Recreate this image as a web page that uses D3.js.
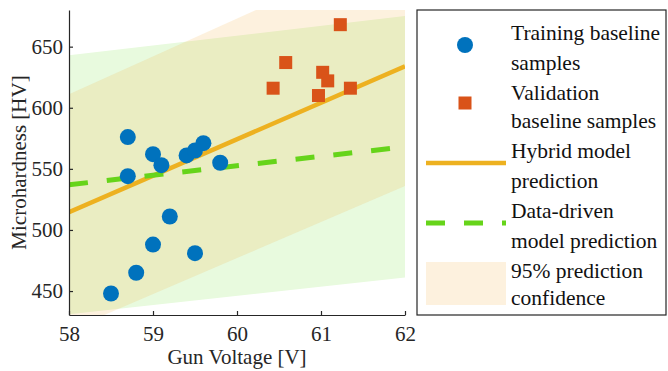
<!DOCTYPE html>
<html>
<head>
<meta charset="utf-8">
<script src="https://cdn.jsdelivr.net/npm/d3@7"></script>
<style>
  body { margin: 0; background: #fff; }
</style>
</head>
<body>
<div id="chart"></div>
<script>
// training samples (blue circles)
const trainV = [58.5, 58.8, 59.0, 59.2, 59.5, 58.7, 58.7, 59.0, 59.1, 59.4, 59.5, 59.6, 59.8];
const trainH = [448, 465, 488, 511, 481, 544, 576, 562, 553, 561, 565, 571, 555];
// validation samples (orange squares)
const valV = [60.43, 60.58, 61.02, 61.08, 60.97, 61.35, 61.23];
const valH = [616, 637, 629, 622, 610, 616, 668];
// model lines, evaluated at the ends of the voltage range
const lineV = [58, 62];
const hybridH = [514.5, 634];
const dataDrivenH = [537, 568];
// 95% prediction bands
const hybridLo = [418, 536];
const hybridHi = [611, 735];
const ddLo = [431, 461];
const ddHi = [643, 675];

const xTicks = [58, 59, 60, 61, 62];
const yTicks = [450, 500, 550, 600, 650];
const legendLabels = [
  ["Training baseline", "samples"],
  ["Validation", "baseline samples"],
  ["Hybrid model", "prediction"],
  ["Data-driven", "model prediction"],
  ["95% prediction", "confidence"]
];

const W = 668, H = 371;
const plot = { l: 69, r: 405, t: 10, b: 315 };
const axisColor = "#262626";
const serif = '"Liberation Serif", "Times New Roman", Times, serif';
const fontSize = 21;

const svg = d3.select("#chart").append("svg").attr("width", W).attr("height", H)
  .attr("font-family", serif);

const xScale = d3.scaleLinear().domain([58, 62]).range([plot.l, plot.r]);
const yScale = d3.scaleLinear().domain([430.4, 680]).range([plot.b, plot.t]);

svg.append("clipPath").attr("id", "clip")
  .append("rect").attr("x", plot.l).attr("y", plot.t)
  .attr("width", plot.r - plot.l).attr("height", plot.b - plot.t);

const plotg = svg.append("g").attr("clip-path", "url(#clip)");

const band = (lo, hi) => d3.area()
  .x((d, i) => xScale(lineV[i]))
  .y0((d, i) => yScale(lo[i]))
  .y1((d, i) => yScale(hi[i]))(lineV);

const orangeBand = "rgb(243,173,61)";
const bandAlpha = 0.17;

plotg.append("path").attr("d", band(ddLo, ddHi)).attr("fill", "rgb(232,250,222)");
plotg.append("path").attr("d", band(hybridLo, hybridHi))
  .attr("fill", orangeBand).attr("fill-opacity", bandAlpha);

const lineGen = d3.line().x(d => xScale(d[0])).y(d => yScale(d[1]));

plotg.append("path").attr("d", lineGen(d3.zip(lineV, hybridH)))
  .attr("fill", "none").attr("stroke", "#EDB120").attr("stroke-width", 4.5);
plotg.append("path").attr("d", lineGen(d3.zip(lineV, dataDrivenH)))
  .attr("fill", "none").attr("stroke", "#66d41a").attr("stroke-width", 5)
  .attr("stroke-dasharray", "19,19");

plotg.selectAll(".train").data(d3.zip(trainV, trainH)).join("circle")
  .attr("class", "train")
  .attr("cx", d => xScale(d[0])).attr("cy", d => yScale(d[1]))
  .attr("r", 8).attr("fill", "#0072BD");

const sq = 13;
plotg.selectAll(".val").data(d3.zip(valV, valH)).join("rect")
  .attr("class", "val")
  .attr("x", d => xScale(d[0]) - sq / 2).attr("y", d => yScale(d[1]) - sq / 2)
  .attr("width", sq).attr("height", sq).attr("fill", "#D95319");

// axes: left and bottom only, ticks pointing inward
const xAxis = d3.axisBottom(xScale).tickValues(xTicks).tickSizeInner(-4).tickSizeOuter(0).tickPadding(11).tickFormat(d3.format("d"));
const yAxis = d3.axisLeft(yScale).tickValues(yTicks).tickSizeInner(-4).tickSizeOuter(0).tickPadding(6).tickFormat(d3.format("d"));

const xaxisg = svg.append("g").attr("transform", `translate(0,${plot.b})`).call(xAxis);
const yaxisg = svg.append("g").attr("transform", `translate(${plot.l},0)`).call(yAxis);

[xaxisg, yaxisg].forEach(g => {
  g.attr("font-family", serif).attr("font-size", fontSize);
  g.select(".domain").attr("stroke", axisColor).attr("stroke-width", 1.2);
  g.selectAll(".tick line").attr("stroke", axisColor).attr("stroke-width", 1.2);
  g.selectAll(".tick text").attr("fill", axisColor);
});
xaxisg.selectAll(".tick text").attr("dy", "0.71em");

svg.append("text").attr("x", (plot.l + plot.r) / 2).attr("y", 357).attr("dy", "0.35em")
  .attr("text-anchor", "middle").attr("font-size", fontSize).attr("fill", axisColor)
  .text("Gun Voltage [V]");
svg.append("text").attr("transform", `translate(19,${(plot.t + plot.b) / 2}) rotate(-90)`)
  .attr("dy", "0.35em").attr("text-anchor", "middle").attr("font-size", fontSize)
  .attr("fill", axisColor).text("Microhardness [HV]");

// legend
const leg = svg.append("g");
leg.append("rect").attr("x", 417).attr("y", 10).attr("width", 249).attr("height", 305)
  .attr("fill", "#fff").attr("stroke", axisColor).attr("stroke-width", 1.2);

const rowY = [[32, 62], [92, 120], [150, 180], [210, 240], [270, 297]];
const symY = [45, 103, 163, 223, 283];

leg.append("circle").attr("cx", 465).attr("cy", symY[0]).attr("r", 8).attr("fill", "#0072BD");
leg.append("rect").attr("x", 465 - sq / 2).attr("y", symY[1] - sq / 2).attr("width", sq).attr("height", sq).attr("fill", "#D95319");
leg.append("line").attr("x1", 426).attr("x2", 506).attr("y1", symY[2]).attr("y2", symY[2])
  .attr("stroke", "#EDB120").attr("stroke-width", 4.5);
leg.append("line").attr("x1", 426).attr("x2", 506).attr("y1", symY[3]).attr("y2", symY[3])
  .attr("stroke", "#66d41a").attr("stroke-width", 5).attr("stroke-dasharray", "19,19");
leg.append("rect").attr("x", 426).attr("y", 262).attr("width", 80).attr("height", 43)
  .attr("fill", orangeBand).attr("fill-opacity", bandAlpha);

legendLabels.forEach((lines, i) => {
  lines.forEach((s, j) => {
    leg.append("text").attr("x", 511).attr("y", rowY[i][j]).attr("dy", "0.35em")
      .attr("font-size", 21.5).attr("fill", "#111").text(s);
  });
});
</script>
</body>
</html>
